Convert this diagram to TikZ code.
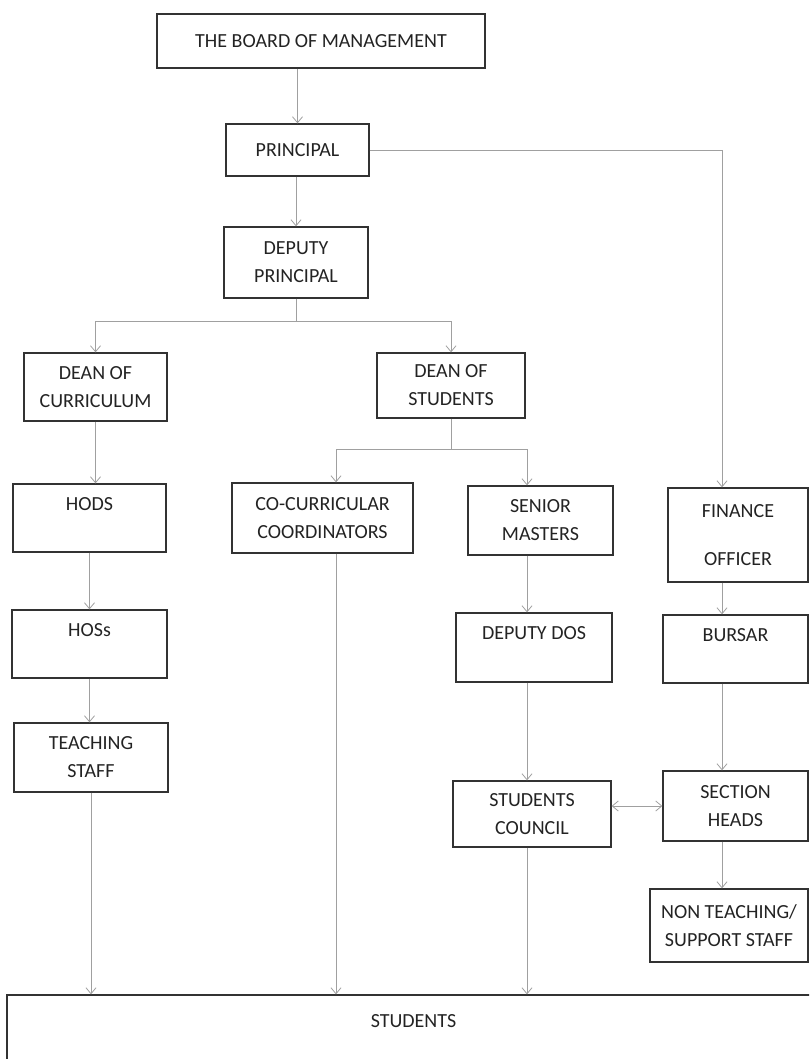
\documentclass[tikz,border=0pt]{standalone}
\usepackage{fontspec}
\setmainfont{Carlito}
\usetikzlibrary{arrows.meta,positioning}
\definecolor{orgdark}{RGB}{50,50,50}
\definecolor{orgtext}{RGB}{35,35,35}
\definecolor{orggrey}{RGB}{160,160,160}
\tikzset{
  orgbox/.style={draw=orgdark, line width=1.3pt, align=center, text=orgtext, inner sep=2pt},
  orgarr/.style={-{Straight Barb[length=6pt,width=10pt]}, line width=0.8pt, draw=orggrey},
  orgbiarr/.style={{Straight Barb[length=6pt,width=10pt]}-{Straight Barb[length=6pt,width=10pt]}, line width=0.8pt, draw=orggrey},
  orgline/.style={line width=0.8pt, draw=orggrey}
}

\begin{document}
\begin{tikzpicture}[x=1pt, y=-1pt, font=\fontsize{20}{28}\selectfont]
  \useasboundingbox (0,0) rectangle (809,1059);
  \clip (0,0) rectangle (809,1059);
  % top of the chart
  \node[orgbox, minimum width=328pt, minimum height=54pt] (board) at (321,41) {THE BOARD OF MANAGEMENT};
  \node[orgbox, minimum width=143pt, minimum height=52pt] (principal) at (297.5,150) {PRINCIPAL};
  \node[orgbox, minimum width=144pt, minimum height=71pt] (deputy) at (296,262.5) {DEPUTY\\PRINCIPAL};
  \node[orgbox, minimum width=143pt, minimum height=68pt] (deancur) at (95.5,387) {DEAN OF\\CURRICULUM};
  \node[orgbox, minimum width=148pt, minimum height=65pt] (deanstu) at (451,385.5) {DEAN OF\\STUDENTS};
  % middle rows
  \node[orgbox, minimum width=153pt, minimum height=68pt] (hods) at (89.5,518) {HODS\\~};
  \node[orgbox, minimum width=181pt, minimum height=70pt] (cocur) at (322.5,518) {CO-CURRICULAR\\COORDINATORS};
  \node[orgbox, minimum width=145pt, minimum height=69pt] (senior) at (540.5,520.5) {SENIOR\\MASTERS};
  \node[orgbox, minimum width=140pt, minimum height=94pt] (finance) at (738,535) {FINANCE\\[20pt]OFFICER};
  \node[orgbox, minimum width=155pt, minimum height=68pt] (hoss) at (89.5,644) {HOSs\\~};
  \node[orgbox, minimum width=156pt, minimum height=69pt] (ddos) at (534,647.5) {DEPUTY DOS\\~};
  \node[orgbox, minimum width=145pt, minimum height=68pt] (bursar) at (735.5,649) {BURSAR\\~};
  \node[orgbox, minimum width=154pt, minimum height=69pt] (teaching) at (91,757.5) {TEACHING\\STAFF};
  \node[orgbox, minimum width=158pt, minimum height=66pt] (council) at (532,814) {STUDENTS\\COUNCIL};
  \node[orgbox, minimum width=145pt, minimum height=70pt] (section) at (735.5,806) {SECTION\\HEADS};
  \node[orgbox, minimum width=158pt, minimum height=73pt] (nonteach) at (729,925.5) {NON TEACHING/\\SUPPORT STAFF};
  \node[orgbox, minimum width=813pt, minimum height=80pt] (students) at (413.5,1035) {STUDENTS\\~};
  % columns the long connectors run down
  \coordinate (colco) at (336,0);
  \coordinate (colsm) at (527,0);
  \coordinate (colfin) at (722,0);
  % connectors
  \draw[orgarr] (board.south -| principal.north) -- (principal.north);
  \draw[orgarr] (principal.south -| deputy.north) -- (deputy.north);
  \draw[orgline] (deputy.south) -- ++(0,23) coordinate (split1);
  \draw[orgarr] (split1) -| (deancur.north);
  \draw[orgarr] (split1) -| (deanstu.north);
  \draw[orgline] (deanstu.south) -- ++(0,31) coordinate (split2);
  \draw[orgarr] (split2) -| (colco |- cocur.north);
  \draw[orgarr] (split2) -| (colsm |- senior.north);
  \draw[orgarr] (principal.east) -| (colfin |- finance.north);
  \draw[orgarr] (deancur.south) -- (deancur.south |- hods.north);
  \draw[orgarr] (hods.south) -- (hods.south |- hoss.north);
  \draw[orgarr] (hoss.south) -- (hoss.south |- teaching.north);
  \draw[orgarr] (teaching.south) -- (teaching.south |- students.north);
  \draw[orgarr] (colco |- cocur.south) -- (colco |- students.north);
  \draw[orgarr] (colsm |- senior.south) -- (colsm |- ddos.north);
  \draw[orgarr] (colsm |- ddos.south) -- (colsm |- council.north);
  \draw[orgarr] (colsm |- council.south) -- (colsm |- students.north);
  \draw[orgarr] (colfin |- finance.south) -- (colfin |- bursar.north);
  \draw[orgarr] (colfin |- bursar.south) -- (colfin |- section.north);
  \draw[orgarr] (colfin |- section.south) -- (colfin |- nonteach.north);
  \draw[orgbiarr] (council.east |- section.west) -- (section.west);
\end{tikzpicture}
\end{document}
